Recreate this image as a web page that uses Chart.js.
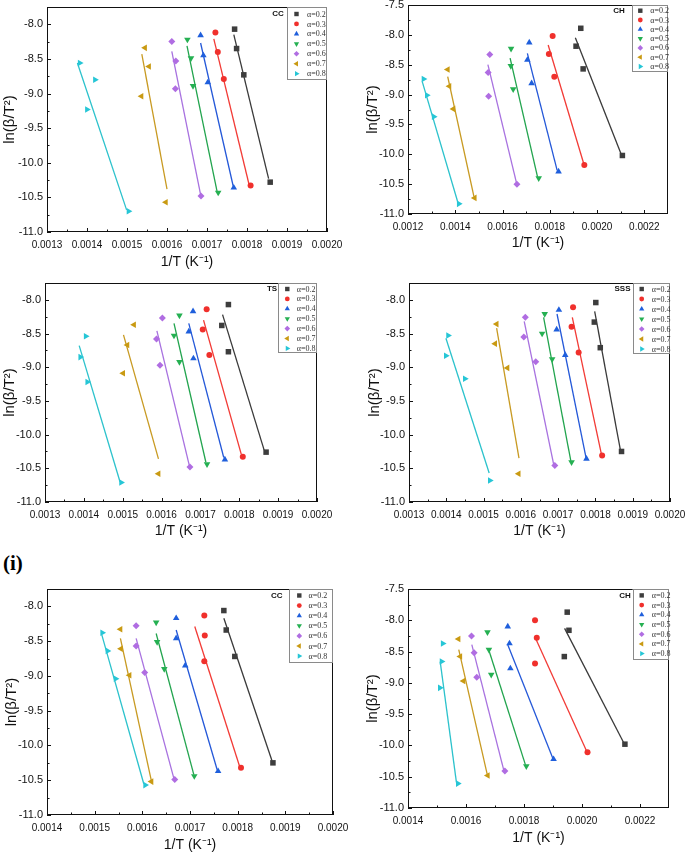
<!DOCTYPE html>
<html>
<head>
<meta charset="utf-8">
<script src="https://cdn.jsdelivr.net/npm/chart.js@4.4.1/dist/chart.umd.min.js"></script>
<style>
  body { margin: 0; background: #fff; width: 685px; height: 852px; position: relative; overflow: hidden; }
  canvas { position: absolute; }
  #tag { position: absolute; left: 3px; top: 553px; font: bold 21px "Liberation Serif", serif; line-height: 1; color: #000; }
</style>
</head>
<body>
<div id="tag">(i)</div>
<script>
// ln(b/T^2) vs 1/T — six Origin-style panels

const alphaLabels = ['α=0.2', 'α=0.3', 'α=0.4', 'α=0.5', 'α=0.6', 'α=0.7', 'α=0.8'];

// CC (top left)
const ccX = [
  [0.001769, 0.001774, 0.001792, 0.001858],
  [0.001721, 0.001727, 0.001742, 0.001809],
  [0.001684, 0.001691, 0.001702, 0.001767],
  [0.001651, 0.001660, 0.001665, 0.001728],
  [0.001612, 0.001622, 0.001621, 0.001685],
  [0.001545, 0.001555, 0.001536, 0.001597],
  [0.001382, 0.001420, 0.001400, 0.001504]
];
const ccY = [
  [-8.07, -8.35, -8.73, -10.28],
  [-8.12, -8.40, -8.79, -10.33],
  [-8.16, -8.45, -8.84, -10.36],
  [-8.22, -8.49, -8.89, -10.43],
  [-8.25, -8.53, -8.93, -10.48],
  [-8.34, -8.61, -9.04, -10.57],
  [-8.56, -8.80, -9.23, -10.70]
];
const ccFitX = [[0.001767, 0.001854], [0.001717, 0.001805], [0.001684, 0.001766], [0.001650, 0.001725], [0.001612, 0.001684], [0.001537, 0.001600], [0.001376, 0.001499]];
const ccFitY = [[-8.15, -10.23], [-8.21, -10.31], [-8.27, -10.35], [-8.31, -10.41], [-8.39, -10.46], [-8.43, -10.38], [-8.56, -10.68]];

// CH (top right)
const chX = [
  [0.001931, 0.001911, 0.001941, 0.002107],
  [0.001812, 0.001796, 0.001819, 0.001946],
  [0.001713, 0.001705, 0.001723, 0.001837],
  [0.001636, 0.001635, 0.001645, 0.001753],
  [0.001546, 0.001539, 0.001541, 0.001661],
  [0.001368, 0.001375, 0.001392, 0.001482],
  [0.001266, 0.001280, 0.001309, 0.001415]
];
const chY = [
  [-7.89, -8.19, -8.57, -10.02],
  [-8.02, -8.32, -8.70, -10.18],
  [-8.13, -8.42, -8.81, -10.29],
  [-8.23, -8.52, -8.91, -10.40],
  [-8.33, -8.63, -9.03, -10.50],
  [-8.58, -8.86, -9.24, -10.73],
  [-8.74, -9.01, -9.37, -10.83]
];
const chFitX = [[0.001908, 0.002102], [0.001793, 0.001943], [0.001705, 0.001831], [0.001632, 0.001748], [0.001538, 0.001659], [0.001368, 0.001479], [0.001260, 0.001412]];
const chFitY = [[-8.05, -10.00], [-8.17, -10.15], [-8.31, -10.27], [-8.39, -10.38], [-8.50, -10.48], [-8.70, -10.71], [-8.78, -10.82]];

// TS
const tsX = [
  [0.001772, 0.001755, 0.001772, 0.001869],
  [0.001716, 0.001706, 0.001723, 0.001809],
  [0.001681, 0.001670, 0.001682, 0.001763],
  [0.001646, 0.001632, 0.001646, 0.001717],
  [0.001602, 0.001587, 0.001596, 0.001673],
  [0.001529, 0.001512, 0.001501, 0.001592],
  [0.001405, 0.001391, 0.001409, 0.001496]
];
const tsY = [
  [-8.07, -8.38, -8.77, -10.26],
  [-8.14, -8.44, -8.82, -10.33],
  [-8.17, -8.47, -8.87, -10.37],
  [-8.23, -8.53, -8.92, -10.44],
  [-8.27, -8.58, -8.97, -10.48],
  [-8.37, -8.67, -9.09, -10.58],
  [-8.54, -8.85, -9.22, -10.71]
];
const tsFitX = [[0.001757, 0.001864], [0.001708, 0.001805], [0.001670, 0.001760], [0.001632, 0.001714], [0.001588, 0.001671], [0.001502, 0.001592], [0.001388, 0.001493]];
const tsFitY = [[-8.22, -10.23], [-8.30, -10.29], [-8.35, -10.34], [-8.35, -10.41], [-8.46, -10.45], [-8.52, -10.36], [-8.68, -10.70]];

// SSS
const sssX = [
  [0.001801, 0.001797, 0.001813, 0.001870],
  [0.001740, 0.001736, 0.001755, 0.001818],
  [0.001702, 0.001696, 0.001719, 0.001776],
  [0.001664, 0.001657, 0.001684, 0.001736],
  [0.001612, 0.001608, 0.001640, 0.001691],
  [0.001535, 0.001531, 0.001564, 0.001594],
  [0.001405, 0.001399, 0.001450, 0.001517]
];
const sssY = [
  [-8.04, -8.33, -8.71, -10.25],
  [-8.11, -8.40, -8.78, -10.31],
  [-8.15, -8.44, -8.82, -10.36],
  [-8.21, -8.50, -8.88, -10.41],
  [-8.26, -8.55, -8.92, -10.46],
  [-8.36, -8.65, -9.01, -10.58],
  [-8.53, -8.83, -9.17, -10.68]
];
const sssFitX = [[0.001798, 0.001867], [0.001738, 0.001816], [0.001697, 0.001775], [0.001661, 0.001734], [0.001609, 0.001688], [0.001535, 0.001595], [0.001399, 0.001515]];
const sssFitY = [[-8.17, -10.23], [-8.26, -10.29], [-8.21, -10.35], [-8.26, -10.39], [-8.32, -10.44], [-8.42, -10.35], [-8.57, -10.57]];

// (i) CC
const cc2X = [
  [0.001771, 0.001776, 0.001794, 0.001874],
  [0.001730, 0.001731, 0.001730, 0.001807],
  [0.001671, 0.001671, 0.001690, 0.001759],
  [0.001629, 0.001631, 0.001646, 0.001709],
  [0.001587, 0.001587, 0.001605, 0.001668],
  [0.001554, 0.001555, 0.001573, 0.001619],
  [0.001516, 0.001527, 0.001544, 0.001606]
];
const cc2Y = [
  [-8.06, -8.34, -8.72, -10.25],
  [-8.13, -8.42, -8.79, -10.32],
  [-8.17, -8.46, -8.85, -10.37],
  [-8.23, -8.51, -8.90, -10.44],
  [-8.28, -8.57, -8.95, -10.49],
  [-8.33, -8.61, -8.99, -10.52],
  [-8.38, -8.64, -9.04, -10.57]
];
const cc2FitX = [[0.001771, 0.001872], [0.001710, 0.001804], [0.001671, 0.001757], [0.001629, 0.001708], [0.001587, 0.001666], [0.001554, 0.001619], [0.001515, 0.001603]];
const cc2FitY = [[-8.17, -10.22], [-8.29, -10.30], [-8.34, -10.35], [-8.39, -10.42], [-8.46, -10.47], [-8.46, -10.51], [-8.41, -10.55]];

// (i) CH
const ch2X = [
  [0.001949, 0.001955, 0.001939, 0.002148],
  [0.001838, 0.001844, 0.001838, 0.002019],
  [0.001744, 0.001750, 0.001753, 0.001902],
  [0.001674, 0.001679, 0.001687, 0.001808],
  [0.001619, 0.001628, 0.001637, 0.001734],
  [0.001574, 0.001580, 0.001591, 0.001675],
  [0.001520, 0.001516, 0.001510, 0.001572]
];
const ch2Y = [
  [-7.87, -8.16, -8.58, -9.98],
  [-8.00, -8.28, -8.69, -10.11],
  [-8.10, -8.37, -8.77, -10.22],
  [-8.19, -8.47, -8.87, -10.33],
  [-8.25, -8.52, -8.91, -10.41],
  [-8.30, -8.58, -8.97, -10.48],
  [-8.37, -8.66, -9.08, -10.61]
];
const ch2FitX = [[0.001940, 0.002143], [0.001839, 0.002015], [0.001744, 0.001899], [0.001677, 0.001805], [0.001620, 0.001730], [0.001575, 0.001673], [0.001511, 0.001567]];
const ch2FitY = [[-8.13, -9.95], [-8.28, -10.08], [-8.39, -10.20], [-8.45, -10.31], [-8.39, -10.39], [-8.47, -10.46], [-8.66, -10.59]];

// tick labels
const xTicks13 = [0.0013, 0.0014, 0.0015, 0.0016, 0.0017, 0.0018, 0.0019, 0.0020];
const xTicks12 = [0.0012, 0.0014, 0.0016, 0.0018, 0.0020, 0.0022];
const xTicks14 = [0.0014, 0.0015, 0.0016, 0.0017, 0.0018, 0.0019, 0.0020];
const xTicks14w = [0.0014, 0.0016, 0.0018, 0.0020, 0.0022];
const yTicks80 = [-11.0, -10.5, -10.0, -9.5, -9.0, -8.5, -8.0];
const yTicks75 = [-11.0, -10.5, -10.0, -9.5, -9.0, -8.5, -8.0, -7.5];

// styles
const markColors = ['#3d3d3d', '#f0302c', '#1f5fdc', '#25b052', '#b06de2', '#c99a12', '#26c6d6'];
const lineColors = ['#3a3a3a', '#f23b36', '#2458d8', '#22a44e', '#a872e0', '#c89a22', '#2cc2cc'];
const markStyles = ['rect', 'circle', 'triangle', 'triangle', 'rectRot', 'triangle', 'triangle'];
const markRot = [0, 0, 0, 180, 0, 270, 90];
const markRad = [3.9, 3.0, 3.8, 3.8, 3.5, 3.8, 3.8];

const SANS = '"Liberation Sans", Arial, sans-serif';
const SERIF = '"Liberation Serif", "Times New Roman", serif';

// page layout: canvas box [x, y, w, h], plot area [l, t, r, b] in page px
const panels = [
  { tag: 'CC', px: ccX, py: ccY, fx: ccFitX, fy: ccFitY, xr: [0.0013, 0.0020], yr: [-11, -7.75], xt: xTicks13, yt: yTicks80,
    box: [0, 0, 360, 270], area: [47, 7, 327, 232], xTitle: 262, yTitle: 10,
    leg: { l: 287, b: 79, mx: 9.5, tx: 20, row0: 7, dy: 9.95, tagX: 278, tagY: 14 } },
  { tag: 'CH', px: chX, py: chY, fx: chFitX, fy: chFitY, xr: [0.0012, 0.0023], yr: [-11, -7.5], xt: xTicks12, yt: yTicks75,
    box: [342, 0, 343, 254], area: [408, 5, 668, 214], xTitle: 243, yTitle: 373,
    leg: { l: 632, b: 71, mx: 8.3, tx: 18.3, row0: 5.7, dy: 9.3, tagX: 619, tagY: 10.7 } },
  { tag: 'TS', px: tsX, py: tsY, fx: tsFitX, fy: tsFitY, xr: [0.0013, 0.0020], yr: [-11, -7.75], xt: xTicks13, yt: yTicks80,
    box: [0, 268, 360, 272], area: [45, 283, 317, 502], xTitle: 531, yTitle: 10,
    leg: { l: 278.3, b: 352.3, mx: 9, tx: 18.4, row0: 6, dy: 9.9, tagX: 272, tagY: 289 } },
  { tag: 'SSS', px: sssX, py: sssY, fx: sssFitX, fy: sssFitY, xr: [0.0013, 0.0020], yr: [-11, -7.75], xt: xTicks13, yt: yTicks80,
    box: [342, 268, 343, 272], area: [409, 283, 670, 502], xTitle: 531, yTitle: 375,
    leg: { l: 633.3, b: 353.3, mx: 8.4, tx: 18.4, row0: 6, dy: 10, tagX: 622.5, tagY: 289 } },
  { tag: 'CC', px: cc2X, py: cc2Y, fx: cc2FitX, fy: cc2FitY, xr: [0.0014, 0.0020], yr: [-11, -7.75], xt: xTicks14, yt: yTicks80,
    box: [0, 580, 360, 272], area: [47, 589, 333, 815], xTitle: 845, yTitle: 11.5,
    leg: { l: 289, b: 661.7, mx: 10.3, tx: 19.5, row0: 6.5, dy: 10.1, tagX: 276.7, tagY: 596 } },
  { tag: 'CH', px: ch2X, py: ch2Y, fx: ch2FitX, fy: ch2FitY, xr: [0.0014, 0.0023], yr: [-11, -7.5], xt: xTicks14w, yt: yTicks75,
    box: [342, 580, 343, 272], area: [408, 589, 669, 808], xTitle: 838, yTitle: 373,
    leg: { l: 632.7, b: 659, mx: 9, tx: 19, row0: 6.4, dy: 9.7, tagX: 625, tagY: 596 } }
];

// frame, inward ticks and the in-plot legend, Origin style
const originFrame = {
  id: 'originFrame',
  afterDraw(chart, args, o) {
    const { ctx, chartArea: a } = chart;
    const sx = chart.scales.x, sy = chart.scales.y;
    const mids = arr => arr.slice(1).map((v, i) => (v + arr[i]) / 2);
    const xs = sx.ticks.map(t => t.value), ys = sy.ticks.map(t => t.value);
    ctx.save();
    ctx.strokeStyle = '#111';
    ctx.lineWidth = 1;
    ctx.beginPath();
    xs.forEach(v => { const p = Math.round(sx.getPixelForValue(v)) + 0.5; ctx.moveTo(p, a.bottom); ctx.lineTo(p, a.bottom - 4); });
    mids(xs).forEach(v => { const p = Math.round(sx.getPixelForValue(v)) + 0.5; ctx.moveTo(p, a.bottom); ctx.lineTo(p, a.bottom - 2.5); });
    ys.forEach(v => { const p = Math.round(sy.getPixelForValue(v)) + 0.5; ctx.moveTo(a.left, p); ctx.lineTo(a.left + 4, p); });
    mids(ys).forEach(v => { const p = Math.round(sy.getPixelForValue(v)) + 0.5; ctx.moveTo(a.left, p); ctx.lineTo(a.left + 2.5, p); });
    ctx.stroke();
    ctx.strokeRect(Math.round(a.left) + 0.5, Math.round(a.top) + 0.5, Math.round(a.right - a.left) - 1, Math.round(a.bottom - a.top) - 1);

    // legend
    const L = o.leg, ox = o.ox, oy = o.oy;
    const l = L.l - ox, t = a.top, r = a.right, b = L.b - oy;
    ctx.fillStyle = '#fff';
    ctx.fillRect(l, t, r - l, b - t);
    ctx.strokeStyle = '#8a8a8a';
    ctx.strokeRect(Math.round(l) + 0.5, Math.round(t) + 0.5, Math.round(r - l) - 1, Math.round(b - t));
    ctx.fillStyle = '#111';
    ctx.font = 'bold 8px ' + SANS;
    ctx.textAlign = 'center';
    ctx.textBaseline = 'middle';
    ctx.fillText(o.tag, L.tagX - ox, L.tagY - oy);
    ctx.textAlign = 'left';
    ctx.font = '8px ' + SERIF;
    chart.data.datasets.filter(d => d.type === 'scatter').forEach((d, i) => {
      const yy = t + L.row0 + i * L.dy;
      ctx.fillStyle = d.backgroundColor;
      Chart.helpers.drawPoint(ctx, { pointStyle: d.pointStyle, rotation: d.rotation, radius: d.pointRadius * 0.8, borderWidth: 0 }, l + L.mx, yy);
      ctx.fillStyle = '#333';
      ctx.fillText(d.label, l + L.tx, yy + 0.5);
    });
    ctx.restore();
  }
};

panels.forEach(p => {
  const [bx, by, bw, bh] = p.box;
  const [al, at, ar, ab] = p.area;
  const cv = document.createElement('canvas');
  cv.width = bw; cv.height = bh;
  cv.style.left = bx + 'px'; cv.style.top = by + 'px';
  cv.style.width = bw + 'px'; cv.style.height = bh + 'px';
  document.body.appendChild(cv);

  const yw = al - bx, xh = by + bh - ab;
  const xtSize = 14, ytSize = 15;

  const pts = p.px.map((xs, i) => ({
    type: 'scatter', label: alphaLabels[i],
    data: xs.map((x, k) => ({ x, y: p.py[i][k] })),
    backgroundColor: markColors[i], borderWidth: 0,
    pointStyle: markStyles[i], rotation: markRot[i], pointRadius: markRad[i]
  }));
  const fits = p.fx.map((xs, i) => ({
    type: 'line', label: 'fit ' + alphaLabels[i],
    data: xs.map((x, k) => ({ x, y: p.fy[i][k] })),
    borderColor: lineColors[i], borderWidth: 1.3, pointRadius: 0, fill: false
  }));

  new Chart(cv, {
    type: 'scatter',
    data: { datasets: pts.concat(fits) },
    options: {
      responsive: false, animation: false, events: [],
      layout: { padding: { left: 0, bottom: 0, top: at - by, right: bx + bw - ar } },
      plugins: {
        legend: { display: false }, tooltip: { enabled: false },
        originFrame: { leg: p.leg, tag: p.tag, ox: bx, oy: by }
      },
      scales: {
        x: {
          type: 'linear', position: 'bottom', min: p.xr[0], max: p.xr[1],
          grid: { display: false, drawTicks: false }, border: { display: false },
          afterBuildTicks: s => { s.ticks = p.xt.map(v => ({ value: v })); },
          afterFit: s => { s.height = xh; s.paddingLeft = 0; s.paddingRight = 0; },
          ticks: { autoSkip: false, maxRotation: 0, padding: 7, color: '#111', font: { family: SANS, size: 10 }, callback: v => v.toFixed(4) },
          title: { display: true, text: '1/T (K⁻¹)', color: '#111', font: { family: SANS, size: xtSize, lineHeight: 1.2 },
                   padding: { top: 0, bottom: by + bh - p.xTitle - xtSize * 0.6 } }
        },
        y: {
          type: 'linear', position: 'left', min: p.yr[0], max: p.yr[1],
          grid: { display: false, drawTicks: false }, border: { display: false },
          afterBuildTicks: s => { s.ticks = p.yt.map(v => ({ value: v })); },
          afterFit: s => { s.width = yw; s.paddingTop = 0; s.paddingBottom = 0; },
          ticks: { autoSkip: false, padding: 4, color: '#111', font: { family: SANS, size: 11 }, callback: v => v.toFixed(1) },
          title: { display: true, text: 'ln(β/T²)', color: '#111', font: { family: SANS, size: ytSize, lineHeight: 1.2 },
                   padding: { top: p.yTitle - bx - ytSize * 0.6, bottom: 0 } }
        }
      }
    },
    plugins: [originFrame]
  });
});
</script>
</body>
</html>
